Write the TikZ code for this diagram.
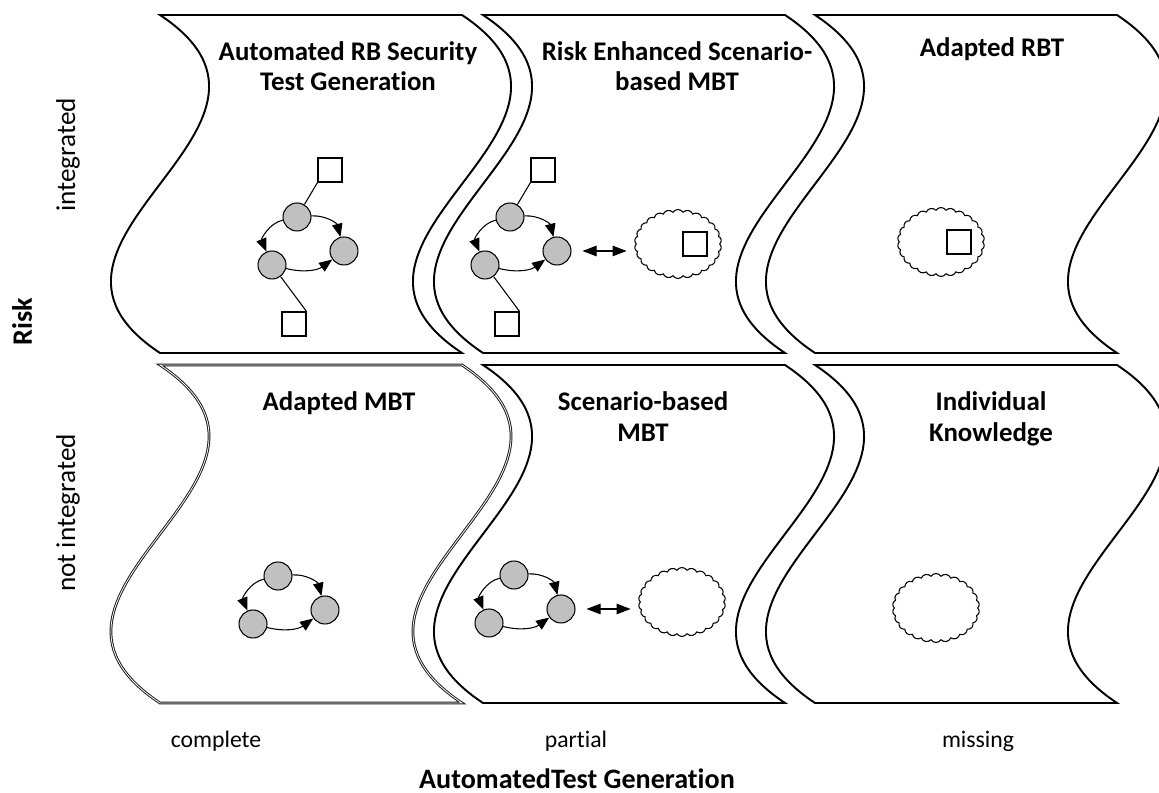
\documentclass[tikz,border=0pt]{standalone}
\usepackage{fontspec}
\setmainfont{Carlito}[Ligatures={NoCommon}]
\usetikzlibrary{positioning,arrows.meta,shapes.symbols}

\definecolor{activitygray}{RGB}{192,192,192}

\newcommand{\TapeWidth}{302}
\newcommand{\TapeHeight}{338}
\newcommand{\TapeBend}{170}

\newcommand{\TapeQuadrant}[3][quadrant]{%
	\draw[#1] (#2,#3) -- ++(\TapeWidth,0)
		.. controls +(\TapeBend,\TapeHeight/3) and +(-\TapeBend,-\TapeHeight/3) .. ++(0,\TapeHeight)
		-- ++(-\TapeWidth,0)
		.. controls +(-\TapeBend,-\TapeHeight/3) and +(\TapeBend,\TapeHeight/3) .. ++(0,-\TapeHeight)
		-- cycle;
}

\newcommand{\ModelCycle}[2]{%
	\node[activity] (#1t) at #2 {};
	\node[activity, below right=0.68cm and 0.94cm of #1t] (#1r) {};
	\node[activity, below left=0.96cm and 0.5cm of #1t] (#1l) {};
	\draw[flow] (#1t) to[bend right=50] (#1l);
	\draw[flow] (#1t) to[bend left=40] (#1r);
	\draw[flow] (#1l) to[bend right=25] (#1r);
}

\tikzset{
	quadrant/.style={draw, line width=1.1pt},
	faint quadrant/.style={draw=black!90, double=white, line width=0.55pt, double distance=0.45pt},
	activity/.style={circle, draw, line width=0.6pt, fill=activitygray, minimum size=0.56cm, inner sep=0pt},
	artifact/.style={rectangle, draw, line width=0.6pt, fill=white, minimum size=0.48cm, inner sep=0pt},
	knowledge/.style={cloud, draw, line width=0.6pt, cloud puffs=26, cloud puff arc=115, cloud ignores aspect, minimum width=1.74cm, minimum height=1.38cm, inner sep=0pt},
	flow/.style={line width=0.6pt, -{Triangle[length=7.5pt,width=6pt]}},
	exchange/.style={line width=0.6pt, {Triangle[length=8pt,width=6pt]}-{Triangle[length=8pt,width=6pt]}},
	title/.style={font=\bfseries\fontsize{15.3}{17.6}\selectfont, align=center, anchor=base, inner sep=0pt},
	axis value/.style={font=\fontsize{13.5}{16}\selectfont, inner sep=0pt},
	side value/.style={font=\fontsize{15.5}{18}\selectfont, inner sep=0pt, rotate=90},
	axis name/.style={font=\bfseries\fontsize{16}{18}\selectfont, inner sep=0pt}
}

\begin{document}
\begin{tikzpicture}[x=0.02cm, y=-0.02cm, on grid]
	\useasboundingbox (0,0) rectangle (1159,793);

	\TapeQuadrant{160}{15}
	\TapeQuadrant{483}{15}
	\TapeQuadrant{815}{15}
	\TapeQuadrant[faint quadrant]{160}{365}
	\TapeQuadrant{483}{365}
	\TapeQuadrant{815}{365}

	\node[title] (t1) at (348,91) {Automated RB Security\\Test Generation};
	\node[title] (t2) at (677,91) {Risk Enhanced Scenario-\\based MBT};
	\node[title] (t3) at (992,57) {Adapted RBT};
	\node[title] (t4) at (339,411) {Adapted MBT};
	\node[title] (t5) at (643,441) {Scenario-based\\MBT};
	\node[title] (t6) at (991,441) {Individual\\Knowledge};

	\ModelCycle{a}{(297,217)}
	\node[artifact, above right=0.94cm and 0.66cm of at] (ain) {};
	\node[artifact, below right=1.18cm and 0.44cm of al] (aout) {};
	\draw[line width=0.6pt] (ain.south west) -- (at);
	\draw[line width=0.6pt] (al) -- (aout.north east);

	\ModelCycle{b}{(510,217)}
	\node[artifact, above right=0.94cm and 0.66cm of bt] (bin) {};
	\node[artifact, below right=1.18cm and 0.44cm of bl] (bout) {};
	\draw[line width=0.6pt] (bin.south west) -- (bt);
	\draw[line width=0.6pt] (bl) -- (bout.north east);
	\node[knowledge] (bk) at (678,244) {};
	\node[artifact, right=0.34cm of bk] (bka) {};
	\draw[exchange, shorten <=0.22cm, shorten >=0.18cm] (br.east) -- (br.east -| bk.west);

	\node[knowledge] (ck) at (941,242) {};
	\node[artifact, right=0.36cm of ck] (cka) {};

	\ModelCycle{d}{(278,576)}

	\ModelCycle{e}{(514,575)}
	\node[knowledge] (ek) at (682,602) {};
	\draw[exchange, shorten <=0.22cm, shorten >=0.18cm] (er.east) -- (er.east -| ek.west);

	\node[knowledge] (fk) at (936,608) {};

	\node[side value] (r1) at (68,155) {integrated};
	\node[side value] (r2) at (68,513) {not integrated};
	\node[axis name, rotate=90] (rn) at (22,322) {Risk};
	\node[axis value] (g1) at (216,741) {complete};
	\node[axis value] (g2) at (576,741) {partial};
	\node[axis value] (g3) at (978,741) {missing};
	\node[axis name, anchor=base] (gn) at (577,788) {AutomatedTest Generation};
\end{tikzpicture}
\end{document}
